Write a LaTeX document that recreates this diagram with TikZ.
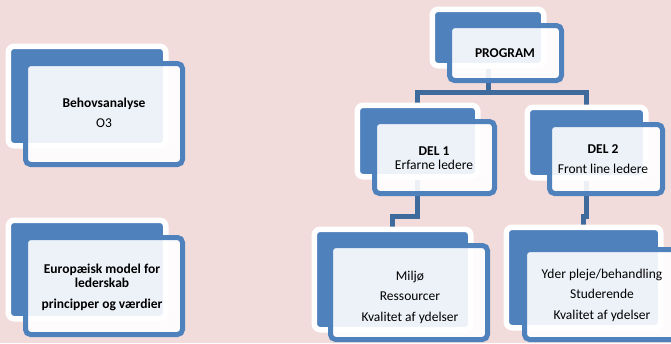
\documentclass[tikz,border=0pt]{standalone}
\usepackage{fontspec}
\setmainfont{Carlito}
\definecolor{bgpink}{HTML}{F2DCDB}
\definecolor{accblue}{HTML}{4F81BD}
\definecolor{connblue}{HTML}{3F6A9C}
\pgfdeclarelayer{bglayer}
\pgfdeclarelayer{connlayer}
\pgfsetlayers{bglayer,connlayer,main}
\tikzset{
  backbox/.style={rectangle, rounded corners=6pt, fill=accblue, draw=white, line width=5.5pt, inner sep=0pt},
  frontbox/.style={rectangle, rounded corners=5pt, fill=white, fill opacity=0.9, draw=accblue, line width=5pt, inner sep=0pt},
  conn/.style={draw=connblue, line width=5pt},
  txt/.style={anchor=base, inner sep=0pt, font=\fontsize{13.5}{16}\selectfont},
  btxt/.style={txt, font=\fontsize{13.5}{16}\selectfont\bfseries}
}
\begin{document}
\begin{tikzpicture}[x=1pt,y=-1pt]
\begin{pgfonlayer}{bglayer}
  \fill[bgpink] (0,0) rectangle (671,343);
\end{pgfonlayer}
\useasboundingbox (0,0) rectangle (671,343);

% back boxes
\node[backbox, minimum width=157.5pt, minimum height=99.5pt] (b1b) at (87,96) {};
\node[backbox, minimum width=157.5pt, minimum height=98.5pt] (b2b) at (87,269.5) {};
\node[backbox, minimum width=111.5pt, minimum height=56.5pt] (progb) at (488,37.5) {};
\node[backbox, minimum width=120.5pt, minimum height=71.5pt] (del1b) at (417.5,141) {};
\node[backbox, minimum width=118.5pt, minimum height=70.5pt] (del2b) at (586.5,142.5) {};
\node[backbox, minimum width=156.5pt, minimum height=100.5pt] (b5b) at (392.5,279.5) {};
\node[backbox, minimum width=154.5pt, minimum height=100.5pt] (b6b) at (583.5,277.5) {};

% front boxes
\node[frontbox, minimum width=157pt, minimum height=101pt] (b1) at (104,114) {};
\node[frontbox, minimum width=157pt, minimum height=97pt] (b2) at (104,286) {};
\node[frontbox, minimum width=112pt, minimum height=55pt] (prog) at (505.5,53) {};
\node[frontbox, minimum width=120pt, minimum height=72pt] (del1) at (434.5,157.5) {};
\node[frontbox, minimum width=113pt, minimum height=69pt] (del2) at (606,159) {};
\node[frontbox, minimum width=157pt, minimum height=94pt] (b5) at (409,292.5) {};
\node[frontbox, minimum width=165.5pt, minimum height=90pt] (b6) at (607.25,294.5) {};

% connectors (behind)
\begin{pgfonlayer}{connlayer}
  \coordinate (j0) at (488,92);
  \draw[conn] (progb.south) -- (j0) -| (del1b.north);
  \draw[conn] (j0) -| (del2b.north);
  \draw[conn] (del1b.south) -- ++(0,37) -| (b5b.north);
  \draw[conn] (del2b.south) -- ++(0,36) -| (b6b.north);
\end{pgfonlayer}

% texts
\node[btxt] (t1a) at (104,107.5) {Behovsanalyse};
\node[txt]  (t1b) at (104,127.5) {O3};
\node[btxt] (t2a) at (102,273.5) {Europæisk model for};
\node[btxt] (t2b) at (102,287.5) {lederskab};
\node[btxt] (t2c) at (102,308.5) {principper og værdier};
\node[btxt] (tp)  at (505,57.5) {PROGRAM};
\node[btxt] (td1a) at (434,155.5) {DEL 1};
\node[txt]  (td1b) at (434,169.5) {Erfarne ledere};
\node[btxt] (td2a) at (603,153.5) {DEL 2};
\node[txt]  (td2b) at (603,173.5) {Front line ledere};
\node[txt] (t5a) at (410,280.5) {Miljø};
\node[txt] (t5b) at (410,300.5) {Ressourcer};
\node[txt] (t5c) at (410,321.5) {Kvalitet af ydelser};
\node[txt] (t6a) at (602,278.5) {Yder pleje/behandling};
\node[txt] (t6b) at (602,298.5) {Studerende};
\node[txt] (t6c) at (602,319.5) {Kvalitet af ydelser};
\end{tikzpicture}
\end{document}
